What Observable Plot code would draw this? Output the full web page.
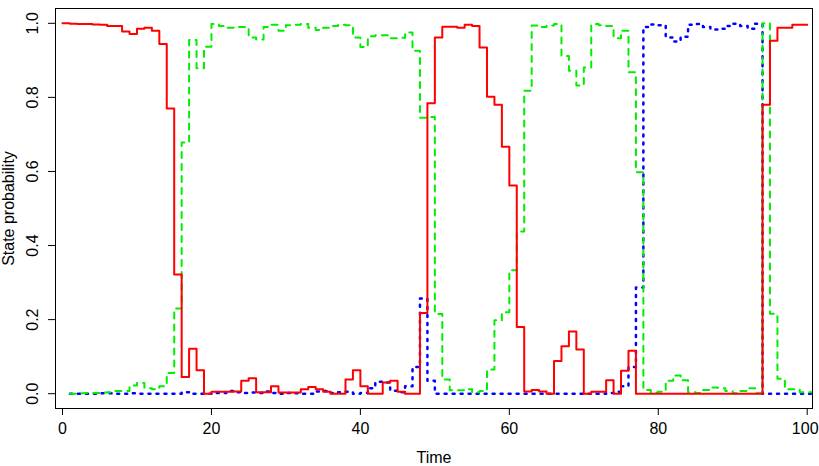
<!DOCTYPE html>
<html>
<head>
<meta charset="utf-8">
<script src="https://cdn.jsdelivr.net/npm/d3@7"></script>
<script src="https://cdn.jsdelivr.net/npm/@observablehq/plot@0.6"></script>
<style>
  html, body { margin: 0; padding: 0; background: #ffffff; }
  #chart { width: 819px; height: 466px; overflow: hidden; }
</style>
</head>
<body>
<div id="chart"></div>
<script>
// State 1 (red, solid) – steps starting at time 0 .. 99
const state1 = [
  1.000, 0.999, 0.998, 0.998, 0.997, 0.996, 0.993, 0.993, 0.978, 0.971,
  0.985, 0.988, 0.980, 0.944, 0.770, 0.322, 0.045, 0.121, 0.063, 0.000,
  0.005, 0.005, 0.005, 0.006, 0.035, 0.042, 0.004, 0.004, 0.020, 0.003,
  0.003, 0.003, 0.012, 0.018, 0.012, 0.005, 0.000, 0.000, 0.038, 0.063,
  0.020, 0.000, 0.000, 0.030, 0.035, 0.005, 0.000, 0.000, 0.218, 0.784,
  0.962, 0.991, 0.991, 0.988, 0.996, 0.993, 0.935, 0.802, 0.780, 0.667,
  0.562, 0.180, 0.006, 0.010, 0.006, 0.000, 0.088, 0.128, 0.168, 0.119,
  0.000, 0.005, 0.005, 0.036, 0.000, 0.062, 0.116, 0.000, 0.000, 0.000,
  0.000, 0.000, 0.000, 0.000, 0.000, 0.000, 0.000, 0.000, 0.000, 0.000,
  0.000, 0.000, 0.000, 0.000, 0.780, 0.953, 0.988, 0.988, 0.996, 0.996
];
// State 2 (green, dashed) – steps starting at time 1 .. 100
const state2 = [
  0.000, 0.001, 0.002, 0.002, 0.003, 0.004, 0.007, 0.007, 0.022, 0.029,
  0.015, 0.012, 0.020, 0.056, 0.230, 0.678, 0.955, 0.879, 0.937, 0.998,
  0.993, 0.988, 0.990, 0.990, 0.962, 0.956, 0.990, 0.996, 0.980, 0.995,
  0.996, 0.998, 0.988, 0.982, 0.988, 0.993, 0.996, 0.995, 0.962, 0.936,
  0.965, 0.968, 0.968, 0.960, 0.961, 0.975, 0.926, 0.745, 0.747, 0.215,
  0.038, 0.009, 0.009, 0.012, 0.004, 0.007, 0.065, 0.198, 0.220, 0.333,
  0.438, 0.818, 0.994, 0.990, 0.994, 0.998, 0.912, 0.872, 0.832, 0.881,
  0.998, 0.995, 0.993, 0.960, 0.980, 0.868, 0.598, 0.010, 0.003, 0.005,
  0.035, 0.049, 0.036, 0.004, 0.002, 0.010, 0.017, 0.015, 0.007, 0.001,
  0.007, 0.015, 0.001, 1.000, 0.216, 0.040, 0.012, 0.012, 0.004, 0.004
];
// State 3 (blue, dotted) – steps starting at time 1 .. 100
const state3 = [
  0.000, 0.000, 0.000, 0.000, 0.001, 0.001, 0.000, 0.000, 0.001, 0.000,
  0.000, 0.000, 0.000, 0.000, 0.000, 0.004, 0.000, 0.000, 0.000, 0.002,
  0.002, 0.007, 0.004, 0.002, 0.003, 0.002, 0.006, 0.002, 0.000, 0.002,
  0.001, 0.000, 0.000, 0.006, 0.007, 0.002, 0.004, 0.005, 0.000, 0.002,
  0.015, 0.032, 0.030, 0.008, 0.004, 0.020, 0.072, 0.257, 0.035, 0.000,
  0.000, 0.000, 0.000, 0.000, 0.000, 0.000, 0.000, 0.000, 0.000, 0.000,
  0.000, 0.000, 0.000, 0.000, 0.000, 0.000, 0.000, 0.000, 0.000, 0.000,
  0.000, 0.000, 0.002, 0.005, 0.020, 0.072, 0.287, 0.990, 0.997, 0.995,
  0.962, 0.951, 0.964, 0.996, 0.998, 0.990, 0.983, 0.985, 0.993, 0.999,
  0.993, 0.985, 0.999, 0.000, 0.000, 0.000, 0.000, 0.000, 0.000, 0.000
];
const start1 = 0;
const start23 = 1;

const xTicks = [0, 20, 40, 60, 80, 100];
const yTicks = [0, 0.2, 0.4, 0.6, 0.8, 1.0];
const yTickLabels = ["0.0", "0.2", "0.4", "0.6", "0.8", "1.0"];
const xTitle = "Time";
const yTitle = "State probability";

function steps(values, start) {
  const rows = values.map((p, i) => ({t: start + i, p}));
  rows.push({t: start + values.length, p: values[values.length - 1]});
  return rows;
}

const font = "'Liberation Sans', Arial, Helvetica, sans-serif";
const lastTick = xTicks[xTicks.length - 1];

const chart = Plot.plot({
  width: 819,
  height: 466,
  marginLeft: 55,
  marginRight: 7,
  marginTop: 8,
  marginBottom: 58,
  style: {fontFamily: font, fontSize: "16px", background: "#ffffff", color: "#000000"},
  x: {domain: [-0.94, 100.71]},
  y: {domain: [-0.04, 1.04]},
  marks: [
    Plot.line(steps(state3, start23), {x: "t", y: "p", curve: "step-after", stroke: "#0000ff",
      strokeWidth: 2.5, strokeDasharray: "2,6", clip: true}),
    Plot.line(steps(state2, start23), {x: "t", y: "p", curve: "step-after", stroke: "#00ee00",
      strokeWidth: 2, strokeDasharray: "6,6", clip: true}),
    Plot.line(steps(state1, start1), {x: "t", y: "p", curve: "step-after", stroke: "#ff0000",
      strokeWidth: 2, clip: true}),
    Plot.frame({stroke: "#000000", strokeWidth: 1}),
    Plot.axisX({ticks: xTicks, tickSize: 7, tickFormat: () => "", label: null, stroke: "#000000"}),
    Plot.text(xTicks.filter(d => d !== lastTick), {x: d => d, text: d => String(d),
      frameAnchor: "bottom", dy: 14, lineAnchor: "top", textAnchor: "middle",
      fontSize: 16, fill: "#000000"}),
    Plot.text([lastTick], {x: d => d, text: d => String(d),
      frameAnchor: "bottom", dy: 14, dx: -2, lineAnchor: "top", textAnchor: "middle",
      fontSize: 16, fill: "#000000"}),
    Plot.axisY({ticks: yTicks, tickSize: 7, tickFormat: () => "", label: null, stroke: "#000000"}),
    Plot.text(yTicks.map((v, i) => ({v, label: yTickLabels[i]})), {
      y: "v", text: "label", frameAnchor: "left", dx: -18, rotate: -90,
      textAnchor: "middle", lineAnchor: "bottom", fontSize: 16, fill: "#000000"}),
    Plot.text([xTitle], {frameAnchor: "bottom", dy: 54, lineAnchor: "bottom",
      textAnchor: "middle", fontSize: 16, fill: "#000000"}),
    Plot.text([yTitle], {frameAnchor: "left", dx: -42, rotate: -90,
      textAnchor: "middle", lineAnchor: "bottom", fontSize: 16, fill: "#000000"})
  ]
});
document.getElementById("chart").appendChild(chart);
</script>
</body>
</html>
